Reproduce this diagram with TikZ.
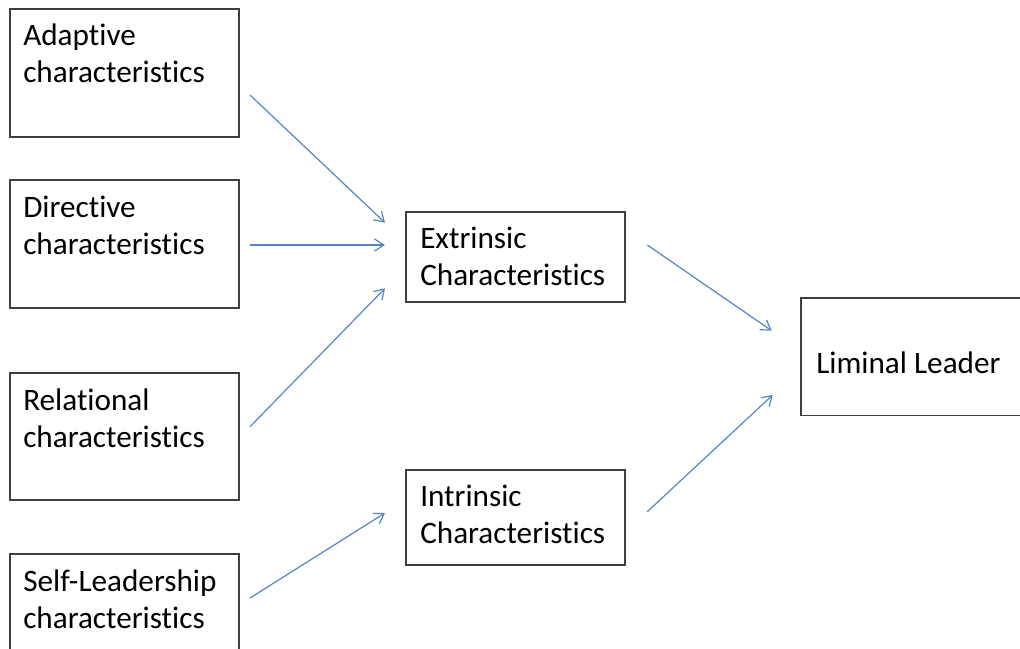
\documentclass[tikz,border=0pt]{standalone}
\usepackage{fontspec}
\setmainfont{Carlito}[RawFeature={-liga;-clig;-calt;-dlig}]
\usepackage{xcolor}
\usetikzlibrary{arrows.meta,positioning}
\definecolor{linkblue}{HTML}{5585C5}
\definecolor{boxgray}{HTML}{3F3F3F}

\begin{document}
\begin{tikzpicture}[x=0.75pt,y=-0.75pt,>={Straight Barb[length=7pt,width=9pt]}]
  \tikzstyle{cbox}=[rectangle,draw=boxgray,line width=0.9pt,inner sep=0pt]
  \tikzstyle{lbl}=[anchor=base west,align=left,inner sep=0pt,font=\fontsize{23.4}{27.75}\selectfont]
  \tikzstyle{link}=[->,draw=linkblue,line width=0.9pt]
  \clip (0,0) rectangle (1020,649);

  % left column
  \node[cbox,minimum width=171.75pt,minimum height=96pt] (adapt) at (124.5,73) {};
  \node[cbox,minimum width=171.75pt,minimum height=96pt] (direct) at (124.5,244) {};
  \node[cbox,minimum width=171.75pt,minimum height=95.25pt] (relat) at (124.5,436.5) {};
  \node[cbox,minimum width=171.75pt,minimum height=96pt] (selfl) at (124.5,618) {};
  \node[lbl] (adaptT) at (23,83) {Adaptive\\characteristics};
  \node[lbl] (directT) at (23,254) {Directive\\characteristics};
  \node[lbl] (relatT) at (23,447) {Relational\\characteristics};
  \node[lbl] (selflT) at (23,628) {Self-Leadership\\characteristics};

  % middle column
  \node[cbox,minimum width=164.25pt,minimum height=67.5pt] (extr) at (515.5,257) {};
  \node[cbox,minimum width=164.25pt,minimum height=71.25pt] (intr) at (515.5,517.5) {};
  \node[lbl] (extrT) at (420,285) {Extrinsic\\Characteristics};
  \node[lbl] (intrT) at (420,543) {Intrinsic\\Characteristics};

  % right
  \node[cbox,minimum width=179.25pt,minimum height=88.125pt] (liminal) at (920.5,356.75) {};
  \node[lbl] (liminalT) at (816,373) {Liminal Leader};

  % arrow ends
  \coordinate (adaptOut) at (250,95);
  \coordinate (directOut) at (250,245);
  \coordinate (relatOut) at (250,426.7);
  \coordinate (selflOut) at (250,598);
  \coordinate (extrInA) at (385,222.7);
  \coordinate (extrInB) at (385,245);
  \coordinate (extrInC) at (385,288.3);
  \coordinate (intrIn) at (385,513);
  \coordinate (extrOut) at (647.3,245);
  \coordinate (intrOut) at (647.3,511.7);
  \coordinate (liminalInA) at (771.7,330.7);
  \coordinate (liminalInB) at (772.7,395);

  \draw[link] (adaptOut) -- (extrInA);
  \draw[link] (directOut) -- (extrInB);
  \draw[link] (relatOut) -- (extrInC);
  \draw[link] (selflOut) -- (intrIn);
  \draw[link] (extrOut) -- (liminalInA);
  \draw[link] (intrOut) -- (liminalInB);
\end{tikzpicture}
\end{document}
